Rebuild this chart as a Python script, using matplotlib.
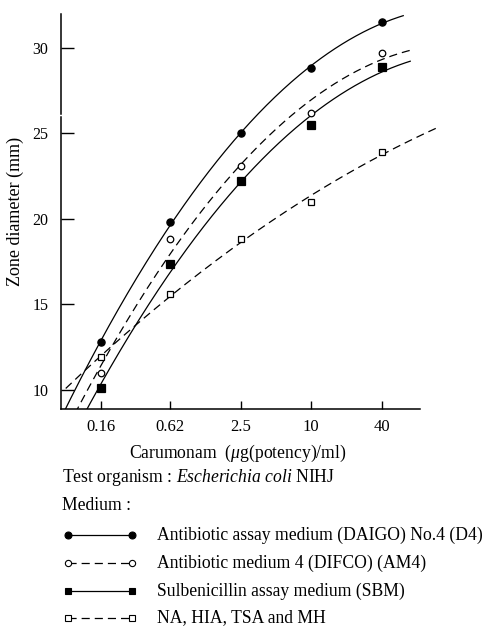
import numpy as np
import matplotlib
matplotlib.use('Agg')
import matplotlib.pyplot as plt
from matplotlib.lines import Line2D

plt.rcParams['font.family'] = ['Liberation Serif', 'DejaVu Serif']
plt.rcParams['mathtext.fontset'] = 'custom'
plt.rcParams['mathtext.rm'] = 'Liberation Serif'
plt.rcParams['mathtext.it'] = 'Liberation Serif:italic'

# data
conc = [0.16, 0.62, 2.5, 10, 40]
tick_labels = ['0.16', '0.62', '2.5', '10', '40']
d4 = [12.8, 19.8, 25.0, 28.8, 31.5]
am4 = [11.0, 18.8, 23.1, 26.2, 29.7]
sbm = [10.1, 17.35, 22.2, 25.5, 28.85]
other = [11.9, 15.6, 18.8, 21.0, 23.9]

names = ['Antibiotic assay medium (DAIGO) No.4 (D4)',
         'Antibiotic medium 4 (DIFCO) (AM4)',
         'Sulbenicillin assay medium (SBM)',
         'NA, HIA, TSA and MH']

W, H = 488, 627
fig = plt.figure(figsize=(W / 100, H / 100), dpi=100)
ax = fig.add_axes([61 / W, 1 - 409 / H, (420 - 61) / W, (409 - 14) / H])
ax.set_xscale('log')
ax.set_xlim(0.0729, 84.8)
ax.set_ylim(8.89, 31.97)

dash = (0, (6.5, 4))
styles = [
    # values, marker, face, linestyle, curve range, clip
    (d4, 'o', 'black', '-', (0.06, 61), True),
    (am4, 'o', 'white', dash, (0.06, 70), True),
    (sbm, 's', 'black', '-', (0.06, 70), True),
    (other, 's', 'white', dash, (0.08, 124), False),
]

lx = np.log(conc)
for vals, mk, fc, ls, (x0, x1), clip in styles:
    coef = np.polyfit(lx, vals, 2)
    xs = np.geomspace(x0, x1, 300)
    ax.plot(xs, np.polyval(coef, np.log(xs)), color='black', lw=0.9,
            linestyle=ls, clip_on=clip, zorder=2)
    ms = 5.2 if fc == 'black' else 4.7
    ax.plot(conc, vals, linestyle='none', marker=mk, ms=ms,
            markerfacecolor=fc, markeredgecolor='black', mew=0.9, zorder=3)

ax.set_xticks(conc)
ax.set_xticklabels(tick_labels)
ax.minorticks_off()
ax.set_yticks([10, 15, 20, 25, 30])
ax.tick_params(axis='y', direction='in', length=9, width=1, pad=9, labelsize=11.5)
ax.tick_params(axis='x', direction='in', length=6, width=1, pad=7, labelsize=12)
for s in ['top', 'right', 'left']:
    ax.spines[s].set_visible(False)
ax.spines['bottom'].set_linewidth(1.1)
# left axis line with a small break
lo, hi = ax.get_ylim()
ax.axvline(ax.get_xlim()[0], ymin=0, ymax=(25.95 - lo) / (hi - lo), color='black', lw=1.1, clip_on=False)
ax.axvline(ax.get_xlim()[0], ymin=(26.15 - lo) / (hi - lo), ymax=1, color='black', lw=1.1, clip_on=False)

fs = 12.7
fig.text(15 / W, 1 - 211 / H, 'Zone diameter (mm)', rotation=90, ha='center', va='center', fontsize=13)
fig.text(238 / W, 1 - 453 / H, r'Carumonam  ($\mu$g(potency)/ml)', ha='center', va='center', fontsize=fs)
fig.text(62 / W, 1 - 477 / H, r'Test organism : $\mathit{Escherichia\ coli}$ NIHJ', ha='left', va='center', fontsize=fs)
fig.text(62 / W, 1 - 506 / H, 'Medium :', ha='left', va='center', fontsize=fs)

rows = [535, 563, 591, 618]
for (vals, mk, fc, ls, rng, clip), name, yp in zip(styles, names, rows):
    y = 1 - yp / H
    fig.add_artist(Line2D([68 / W, 132 / W], [y, y], color='black', lw=0.9, linestyle=ls,
                          marker=mk, ms=5 if fc == 'black' else 4.5,
                          markerfacecolor=fc, markeredgecolor='black', mew=0.8))
    fig.text(157 / W, y, name, ha='left', va='center', fontsize=fs)

fig.savefig('out.png', dpi=100)
